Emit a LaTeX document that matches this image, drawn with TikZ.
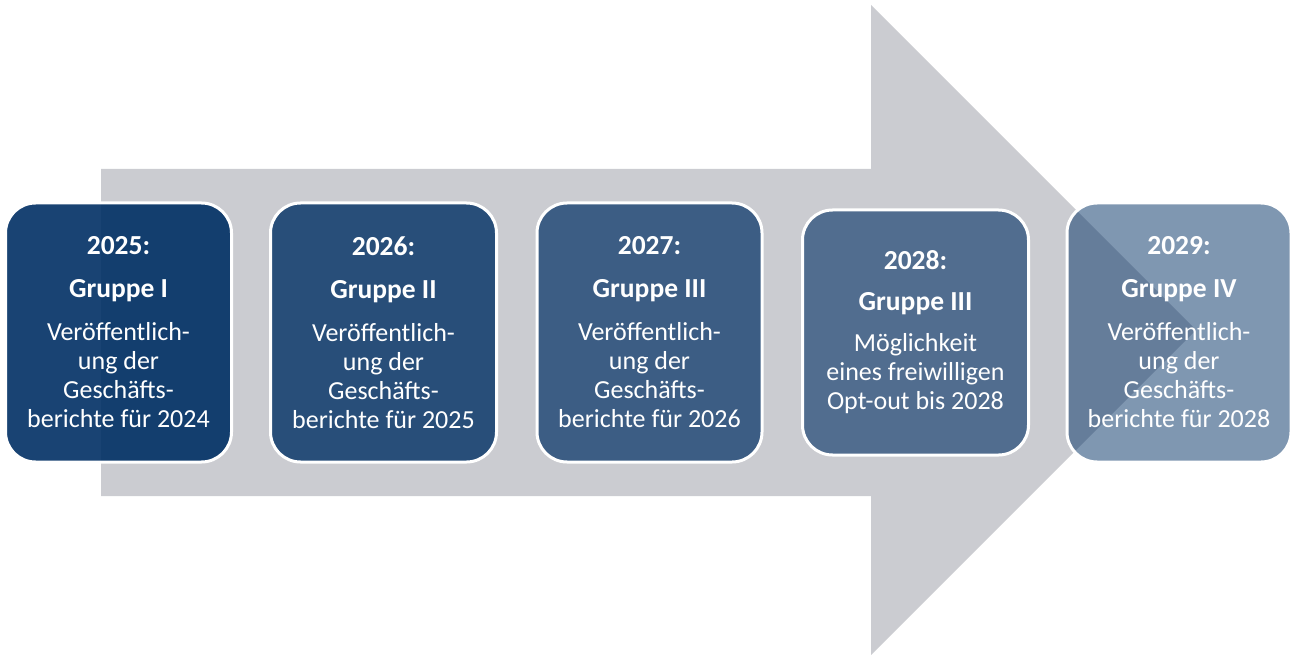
\documentclass[tikz,border=0pt]{standalone}
\usepackage{fontspec}
\setmainfont{Carlito}
\usetikzlibrary{positioning}
\definecolor{navy}{RGB}{0,47,100}
\definecolor{arrowgrey}{RGB}{203,204,209}
\newcommand{\headline}[1]{{\fontsize{27.5}{29}\selectfont\bfseries #1}}

\begin{document}
\begin{tikzpicture}[x=1pt,y=-1pt,
  yearbox/.style={rectangle,rounded corners=30pt,draw=white,line width=3pt,fill=navy,
    text=white,text opacity=1,align=center,inner sep=0pt,
    minimum width=226pt,minimum height=259pt,font=\fontsize{26}{29}\selectfont},
]
\useasboundingbox (0,0) rectangle (1291,655);

% grey arrow in the background
\fill[arrowgrey] (101,169) -- (871,169) -- (871,5) -- (1196,330) -- (871,655) -- (871,496) -- (101,496) -- cycle;

% one box per year, fading out to the right
\node[yearbox,fill opacity=0.9] (y2025) at (118.5,332.5) {\headline{2025:}\\[14pt]\headline{Gruppe I}\\[14pt]Veröffentlich-\\ung der\\Geschäfts-\\berichte für 2024};
\node[yearbox,fill opacity=0.8] (y2026) at (383.5,332.5) {\headline{2026:}\\[14pt]\headline{Gruppe II}\\[14pt]Veröffentlich-\\ung der\\Geschäfts-\\berichte für 2025};
\node[yearbox,fill opacity=0.7,minimum width=225pt] (y2027) at (649.5,332.5) {\headline{2027:}\\[14pt]\headline{Gruppe III}\\[14pt]Veröffentlich-\\ung der\\Geschäfts-\\berichte für 2026};
\node[yearbox,fill opacity=0.6,minimum height=245pt] (y2028) at (915.5,332.5) {\headline{2028:}\\[12pt]\headline{Gruppe III}\\[12pt]Möglichkeit\\eines freiwilligen\\Opt-out bis 2028};
\node[yearbox,fill opacity=0.5,minimum width=224pt] (y2029) at (1179,332.5) {\headline{2029:}\\[14pt]\headline{Gruppe IV}\\[14pt]Veröffentlich-\\ung der\\Geschäfts-\\berichte für 2028};

\end{tikzpicture}
\end{document}
